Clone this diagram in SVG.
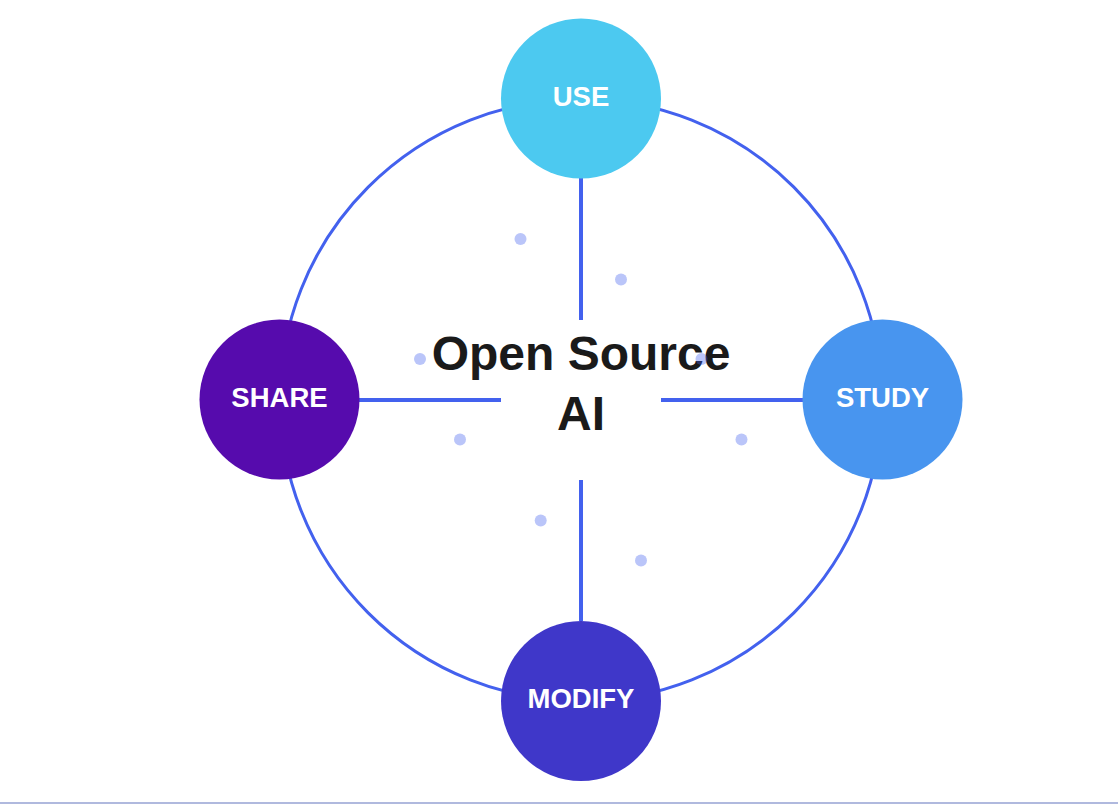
<svg xmlns="http://www.w3.org/2000/svg" width="1118" height="804" viewBox="0 0 1118 804">
<style>
.ring{fill:none;stroke:#4361ee;stroke-width:3}
.conn{stroke:#4361ee;stroke-width:4}
.lbl{font-family:"Liberation Sans",Arial,sans-serif;font-weight:bold;font-size:27.5px;fill:#ffffff;text-anchor:middle}
.title{font-family:"Liberation Sans",Arial,sans-serif;font-weight:bold;font-size:48px;fill:#1a1a1a;text-anchor:middle}
.dot{fill:#4361ee;fill-opacity:0.37}
</style>
<rect width="1118" height="804" fill="#ffffff"/>
<rect x="0" y="802" width="1118" height="2" fill="#b0b9de"/>
<circle class="ring" cx="581" cy="400" r="301"/>
<g id="connectors">
<line class="conn" x1="581" y1="178" x2="581" y2="320"/>
<line class="conn" x1="581" y1="480" x2="581" y2="621"/>
<line class="conn" x1="359" y1="400" x2="501" y2="400"/>
<line class="conn" x1="661" y1="400" x2="803" y2="400"/>
</g>
<g id="center">
<text class="title" x="581" y="370">Open Source</text>
<text class="title" x="581" y="430">AI</text>
</g>
<g id="dots">
<circle class="dot" cx="520.5" cy="239" r="6"/>
<circle class="dot" cx="621" cy="279.5" r="6"/>
<circle class="dot" cx="420" cy="359" r="6"/>
<circle class="dot" cx="701.5" cy="359" r="6"/>
<circle class="dot" cx="460" cy="439.5" r="6"/>
<circle class="dot" cx="741.5" cy="439.5" r="6"/>
<circle class="dot" cx="540.7" cy="520.5" r="6"/>
<circle class="dot" cx="641" cy="560.5" r="6"/>
</g>
<g id="use">
<circle cx="581" cy="98.5" r="80" fill="#4cc9f0"/>
<text class="lbl" x="581" y="105.5">USE</text>
</g>
<g id="share">
<circle cx="279.5" cy="399.5" r="80" fill="#560bad"/>
<text class="lbl" x="279.5" y="406.5">SHARE</text>
</g>
<g id="study">
<circle cx="882.5" cy="399.5" r="80" fill="#4895ef"/>
<text class="lbl" x="882.5" y="406.5">STUDY</text>
</g>
<g id="modify">
<circle cx="581" cy="701" r="80" fill="#3f37c9"/>
<text class="lbl" x="581" y="708">MODIFY</text>
</g>
</svg>
